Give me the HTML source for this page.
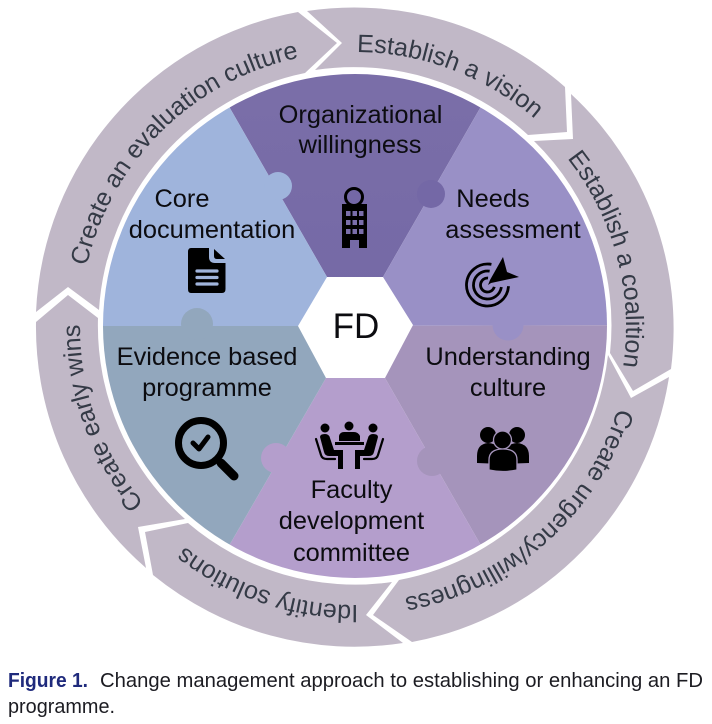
<!DOCTYPE html>
<html><head><meta charset="utf-8">
<style>
html,body{margin:0;padding:0;background:#fff;width:712px;height:724px;overflow:hidden}
svg{display:block}
text{font-family:"Liberation Sans",Arial,sans-serif}
.t{font-size:25.4px;fill:#0c0c10;text-anchor:middle}
.r{font-size:25.1px;fill:#343a46;text-anchor:middle}
.c{font-size:20.6px;fill:#1c1c22}
</style></head><body>
<svg width="712" height="724" viewBox="0 0 712 724" xmlns="http://www.w3.org/2000/svg">
<defs>
<clipPath id="disc"><circle cx="355" cy="326" r="252"/></clipPath>
<path id="circ" d="M355 602 A275 275 0 1 1 355 52 A275 275 0 1 1 355 602"/>
<path id="circ2" d="M355 598 A271 271 0 1 1 355 56 A271 271 0 1 1 355 598"/>
<path id="circ3" d="M355 605 A278 278 0 1 1 355 49 A278 278 0 1 1 355 605"/>
<linearGradient id="org" x1="0" y1="0" x2="0" y2="1"><stop offset="0" stop-color="#7b6fa8"/><stop offset="1" stop-color="#7468a6"/></linearGradient>
</defs>

<!-- ring arrows -->
<g fill="#c1b8c7">
<path d="M36 312 L68 287 L99 310 A258 258 0 0 1 305 73 L337 43 L298 12 A319 319 0 0 0 36 312 Z"/>
<path d="M307 11 L342 43 L315 70 A258 258 0 0 1 528 135 L567 132 L565 87 A319 319 0 0 0 307 11 Z"/>
<path d="M571 94 L573 139 L534 141 A258 258 0 0 1 610 353 L633 391 L671 369 A319 319 0 0 0 571 94 Z"/>
<path d="M669 377 L631 398 L608 355 A258 258 0 0 1 399 580 L373 615 L412 642 A319 319 0 0 0 669 377 Z"/>
<path d="M403 643 L366 615 L392 582 A258 258 0 0 1 188 523 L145 532 L153 575 A319 319 0 0 0 403 643 Z"/>
<path d="M146 568 L138 527 L185 519 A258 258 0 0 1 98 318 L68 295 L36 322 A319 319 0 0 0 146 568 Z"/>
</g>

<!-- ring labels -->
<g transform="rotate(-44.5 355 327)"><text class="r"><textPath href="#circ" startOffset="50%">Create an evaluation culture</textPath></text></g>
<g transform="rotate(20.6 355 327)"><text class="r"><textPath href="#circ" startOffset="50%">Establish a vision</textPath></text></g>
<g transform="rotate(75 355 327)"><text class="r"><textPath href="#circ2" startOffset="50%">Establish a coalition</textPath></text></g>
<g transform="rotate(138.4 355 327)"><text class="r"><textPath href="#circ" startOffset="50%">Create urgency/willingness</textPath></text></g>
<g transform="rotate(198.6 355 327)"><text class="r"><textPath href="#circ3" startOffset="50%">Identify solutions</textPath></text></g>
<g transform="rotate(250.3 355 327)"><text class="r"><textPath href="#circ" startOffset="50%">Create early wins</textPath></text></g>

<!-- sectors -->
<g clip-path="url(#disc)">
<polygon points="355,326 327,277 200,56 510,56 383,277" fill="url(#org)"/>
<polygon points="355,326 383,277 510,56 700,56 700,325" fill="#9990c6"/>
<polygon points="355,326 700,325 700,600 510,596 385,378" fill="#a594bb"/>
<polygon points="355,326 385,378 510,596 200,596 326,378" fill="#b49ecc"/>
<polygon points="355,326 326,378 200,596 0,600 0,326" fill="#92a7bd"/>
<polygon points="355,326 0,326 0,56 200,56 327,277" fill="#9fb4dc"/>
<circle cx="278" cy="186" r="14" fill="#9fb4dc"/>
<circle cx="431" cy="194" r="14" fill="#7468a6"/>
<circle cx="197" cy="324" r="16" fill="#92a7bd"/>
<circle cx="508" cy="325" r="15.500" fill="#9990c6"/>
<circle cx="276" cy="458" r="15" fill="#b49ecc"/>
<circle cx="432" cy="461" r="15" fill="#a594bb"/>
</g>

<!-- hexagon -->
<polygon points="298,326 327,277 383,277 413,325 385,378 326,378" fill="#fff"/>
<text x="356" y="338" style="font-size:35px;fill:#0c0c10;text-anchor:middle">FD</text>

<!-- sector labels -->
<text class="t" x="360.500" y="123">Organizational</text>
<text class="t" x="360" y="153">willingness</text>
<text class="t" x="182" y="207">Core</text>
<text class="t" x="212" y="238">documentation</text>
<text class="t" x="493" y="207">Needs</text>
<text class="t" x="513" y="238">assessment</text>
<text class="t" x="207" y="365">Evidence based</text>
<text class="t" x="207" y="396">programme</text>
<text class="t" x="508" y="365">Understanding</text>
<text class="t" x="508" y="396">culture</text>
<text class="t" x="351.5" y="498">Faculty</text>
<text class="t" x="351.5" y="529">development</text>
<text class="t" x="351.5" y="561">committee</text>

<!-- building icon -->
<circle cx="354" cy="197" r="8.5" fill="#7468a6" stroke="#000" stroke-width="3"/>
<path d="M342 204 H367 V248 H359 V240 H350 V248 H342 Z" fill="#000"/>
<g fill="#7a6eaa">
<rect x="346" y="211" width="4.5" height="5"/><rect x="352.5" y="211" width="4.5" height="5"/><rect x="359" y="211" width="4.5" height="5"/>
<rect x="346" y="220" width="4.5" height="5"/><rect x="352.5" y="220" width="4.5" height="5"/><rect x="359" y="220" width="4.5" height="5"/>
<rect x="346" y="229" width="4.5" height="5"/><rect x="352.5" y="229" width="4.5" height="5"/><rect x="359" y="229" width="4.5" height="5"/>
</g>

<!-- document icon -->
<path d="M191 248 H209 V257 Q209 263 215 263 H225.5 V289 Q225.5 293 222 293 H191 Q188 293 188 289 V252 Q188 248 191 248 Z" fill="#000"/>
<path d="M214 249 L225 259 H217 Q214 259 214 256 Z" fill="#000"/>
<g stroke="#a0b4db" stroke-width="3.2" stroke-linecap="round">
<line x1="197" y1="271" x2="217" y2="271"/><line x1="197" y1="277.500" x2="217" y2="277.500"/><line x1="197" y1="284" x2="217" y2="284"/>
</g>

<!-- target icon -->
<g fill="none" stroke="#000" stroke-width="2.8">
<circle cx="487.500" cy="285" r="21" pathLength="100" stroke-dasharray="77 23" transform="rotate(5 487.500 285)"/>
<circle cx="487.500" cy="285" r="14" pathLength="100" stroke-dasharray="75 25" transform="rotate(10 487.500 285)"/>
<circle cx="487.500" cy="285" r="7" pathLength="100" stroke-dasharray="72 28" transform="rotate(15 487.500 285)"/>
</g>
<polygon points="503,257 507,272 519,277 491,283 488,285 490,280" fill="#000"/>

<!-- magnifier icon -->
<circle cx="201" cy="443" r="22.500" fill="none" stroke="#000" stroke-width="7"/>
<line x1="221" y1="463" x2="234" y2="476" stroke="#000" stroke-width="9" stroke-linecap="round"/>
<polyline points="193,443 199,449 208,437" fill="none" stroke="#000" stroke-width="5" stroke-linecap="round" stroke-linejoin="round"/>

<!-- people icon -->
<circle cx="488" cy="435" r="8" fill="#000"/>
<circle cx="517" cy="435" r="8" fill="#000"/>
<path d="M477 463 V456 Q477 444 488 443 Q501 444 503 456 V464 Z" fill="#000"/>
<path d="M503 464 V456 Q505 444 517 443 Q529 444 529 456 V463 Z" fill="#000"/>
<circle cx="502.500" cy="440" r="9" fill="#000" stroke="#a594bb" stroke-width="1.3"/>
<path d="M489 470 V460 Q489 449 503 449 Q517 449 517 460 V470 Q503 473 489 470 Z" fill="#000" stroke="#a594bb" stroke-width="1.3"/>

<!-- meeting icon -->
<g fill="#000">
<circle cx="325" cy="428" r="4.500"/>
<circle cx="349" cy="426" r="4.500"/>
<circle cx="373" cy="428" r="4.500"/>
<path d="M339 441 V436 Q340 432 344 432 H354 Q358 432 360 436 V441 Z"/>
<rect x="335" y="442" width="29" height="3"/>
<path d="M320 437 Q320 434 325 434 Q329 434 330 438 L334 450 H343 V469 H338 V456 H329 Q325 456 324 452 Z"/>
<path d="M378 437 Q378 434 373 434 Q369 434 368 438 L364 450 H355 V469 H360 V456 H369 Q373 456 374 452 Z"/>
</g>
<g fill="none" stroke="#000" stroke-width="2.200" stroke-linecap="round">
<path d="M316 439 L321 455 Q322 459 327 459 H335"/>
<path d="M383 439 L378 455 Q377 459 372 459 H364"/>
</g>

<!-- caption -->
<text x="8" y="687" textLength="80" lengthAdjust="spacingAndGlyphs" style="font-size:20.6px;font-weight:bold;fill:#1f2a7c">Figure 1.</text>
<text class="c" x="100" y="687" textLength="603" lengthAdjust="spacingAndGlyphs">Change management approach to establishing or enhancing an FD</text>
<text class="c" x="8" y="713" textLength="107" lengthAdjust="spacingAndGlyphs">programme.</text>
</svg>
</body></html>
